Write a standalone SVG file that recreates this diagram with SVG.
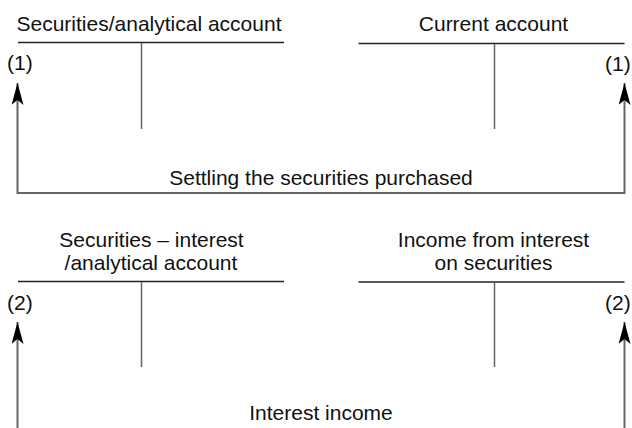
<svg xmlns="http://www.w3.org/2000/svg" width="632" height="428" viewBox="0 0 632 428">
<style>
.t{font-family:"Liberation Sans",Arial,sans-serif;font-size:21px;fill:#111;text-anchor:middle}
.l{font-family:"Liberation Sans",Arial,sans-serif;font-size:21px;fill:#111}
.h{stroke:#222;stroke-width:1.3;fill:none}
.v{stroke:#666;stroke-width:1.5;fill:none}
.c{stroke:#666;stroke-width:2;fill:none}
</style>
<defs>
<marker id="ah" viewBox="0 0 22 12" refX="22" refY="6" markerWidth="22" markerHeight="12" markerUnits="userSpaceOnUse" orient="auto-start-reverse">
<path d="M22,6 L0,0 L5,6 L0,12 Z" fill="#000"/>
</marker>
</defs>
<g id="acc-securities">
<text class="t" x="149" y="31">Securities/analytical account</text>
<line class="h" x1="18" y1="42.5" x2="284" y2="42.5"/>
<line class="v" x1="141.5" y1="43" x2="141.5" y2="129"/>
<text class="l" x="7" y="70">(1)</text>
</g>
<g id="acc-current">
<text class="t" x="493.5" y="31">Current account</text>
<line class="h" x1="358.5" y1="43.5" x2="624.5" y2="43.5"/>
<line class="v" x1="494.5" y1="44" x2="494.5" y2="129"/>
<text class="l" x="605" y="71">(1)</text>
</g>
<g id="acc-sec-interest">
<text class="t" x="151.5" y="247">Securities – interest</text>
<text class="t" x="151" y="270">/analytical account</text>
<line class="h" x1="18" y1="281.5" x2="284" y2="281.5"/>
<line class="v" x1="141.5" y1="282" x2="141.5" y2="367"/>
<text class="l" x="7" y="310">(2)</text>
</g>
<g id="acc-income">
<text class="t" x="493.5" y="247">Income from interest</text>
<text class="t" x="493.5" y="270">on securities</text>
<line class="h" x1="358.5" y1="282" x2="624.5" y2="282"/>
<line class="v" x1="494.5" y1="283" x2="494.5" y2="367"/>
<text class="l" x="605" y="310">(2)</text>
</g>
<g id="connectors">
<path class="c" d="M17.5,83 V193 H624.5 V83" marker-start="url(#ah)" marker-end="url(#ah)"/>
<text class="t" x="321" y="185">Settling the securities purchased</text>
<path class="c" d="M17.5,322 V440" marker-start="url(#ah)"/>
<path class="c" d="M624.5,322 V440" marker-start="url(#ah)"/>
<text class="t" x="321" y="420">Interest income</text>
</g>
</svg>
